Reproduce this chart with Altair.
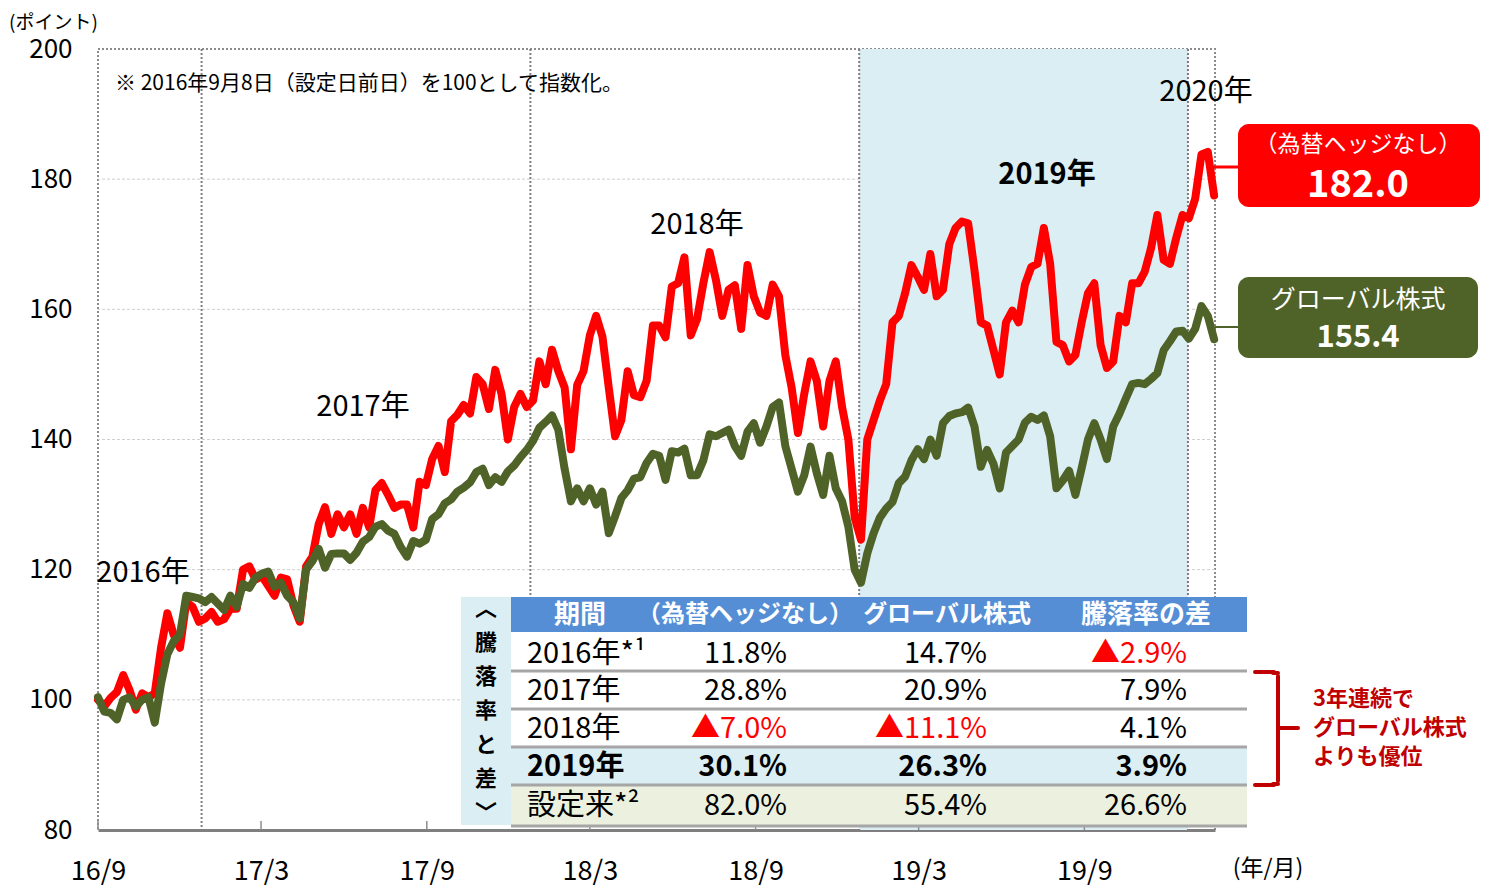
import altair as alt
import pandas as pd

# ---------------- data ----------------
unhedged = [100, 99, 100.3, 101.2, 103.8, 101.5, 98.5, 101, 100.4, 101,
            108, 113.3, 110, 108, 115, 114.3, 112, 112.5, 113.5, 112,
            112.4, 114, 114, 120, 120.5, 118.5, 119, 117.5, 116, 118.8,
            118.5, 114.5, 112, 120.5, 122, 127, 129.6, 125.5, 128.5, 126.5,
            128.5, 125.5, 129.5, 126.5, 132.2, 133.3, 131.5, 129.5, 130, 130,
            126.5, 133.5, 133, 137, 139, 135, 142.8, 143.8, 145.3, 144,
            149.6, 148.5, 144.7, 150.7, 147, 140, 145, 147, 145, 146,
            152, 148.5, 153.8, 150.5, 148, 138.5, 148.4, 150.5, 156, 159,
            155.8, 148, 140.5, 143, 150.5, 146.8, 146.5, 149, 157.5, 157.5,
            155.7, 163.5, 164, 168, 156, 158.5, 164, 168.8, 164.5, 159,
            163, 163.7, 157, 166.8, 162, 159.5, 159, 163.8, 162, 153,
            148, 141, 147, 152, 149, 142, 149, 152, 145, 140,
            128, 124.6, 140, 143, 146, 148.5, 158, 159, 162.5, 166.8,
            165, 163, 168.5, 162, 163, 170, 172.5, 173.5, 173.2, 166,
            158, 157.5, 153.8, 150, 158, 159.8, 158, 163.8, 166.5, 167,
            172.5, 167, 155, 154.5, 152, 153, 158, 162.5, 164, 154.5,
            151, 152, 159, 158, 164, 164, 165.8, 169.4, 174.5, 167.6,
            167, 171, 174.5, 174, 177, 183.8, 184.2, 177.5]

global_eq = [100.4, 98.2, 98, 97, 100, 100.4, 99, 100, 100.4, 96.5,
             102.5, 107, 109, 110, 116, 115.8, 115.6, 115, 115.8, 114.8,
             113.8, 116, 114.3, 117.8, 117.2, 118.8, 119.4, 119.7, 117.4, 118,
             116, 115, 112.5, 120, 121.3, 123.2, 120.3, 122.4, 122.5, 122.5,
             121.5, 122.6, 124.3, 125, 126.6, 127, 126, 125.5, 123.5, 122,
             124.4, 124, 124.6, 127.8, 128.5, 130.2, 130.8, 132, 132.6, 133.4,
             135, 135.5, 133, 134.2, 133.5, 135.1, 136, 137.3, 138.4, 139.8,
             141.8, 142.7, 143.7, 141.5, 135.5, 130.5, 132.5, 130.5, 132.5, 130,
             132, 125.6, 128.2, 131, 132.2, 134, 134.2, 136.4, 137.8, 137.5,
             133.8, 138.2, 138, 138.6, 134.5, 134.5, 136.8, 140.8, 140.5, 141,
             141.5, 139, 137.5, 141.2, 142.5, 139.5, 142, 145, 145.7, 139,
             135.5, 132, 134.5, 138.9, 134.8, 131.5, 137.5, 132.5, 130.5, 126.6,
             120, 118, 122.5, 125.6, 128, 129.4, 130.4, 133.3, 134.3, 136.8,
             138.5, 137, 140, 137.5, 142.5, 143.6, 144, 144.2, 144.9, 142,
             135.8, 138.4, 136.3, 132.5, 138, 139, 140, 142.6, 143.5, 143,
             143.7, 140.5, 132.5, 133.7, 135.2, 131.5, 135.6, 140, 142.5, 140,
             137, 142, 144, 146.3, 148.5, 148.7, 148.5, 149.3, 150.2, 153.7,
             155.1, 156.6, 156.7, 155.5, 157, 160.5, 159, 155.4]

start_date = "2016-09-08"
end_date = "2020-01-31"
tick_dates = ["2016-09-08", "2017-03-08", "2017-09-08", "2018-03-08",
              "2018-09-08", "2019-03-08", "2019-09-08"]
year_starts = ["2017-01-01", "2018-01-01", "2019-01-01", "2020-01-01"]
y_ticks = [80, 100, 120, 140, 160, 180, 200]
grid_values = [100, 120, 140, 160, 180]

periods = ["2016年*¹", "2017年", "2018年", "2019年", "設定来*²"]
ret_unhedged = [11.8, 28.8, -7.0, 30.1, 82.0]
ret_global = [14.7, 20.9, -11.1, 26.3, 55.4]
ret_diff = [-2.9, 7.9, 4.1, 3.9, 26.6]
headers = ["期間", "（為替ヘッジなし）", "グローバル株式", "騰落率の差"]
final_unhedged = 182.0
final_global = 155.4

# ---------------- layout ----------------
FONT = "Noto Sans CJK JP"
W, H = 1117, 781
RED = "#FF0000"
GREEN = "#4F6228"
DARKRED = "#C00000"


def dt(s):
    y, m, d = map(int, s.split("-"))
    return alt.DateTime(year=y, month=m, date=d)


dates = pd.date_range(start_date, periods=len(unhedged), freq="7D")
df = pd.DataFrame({"date": dates, "unhedged": unhedged, "global": global_eq})

xscale = alt.Scale(domain=[dt(start_date), dt(end_date)], nice=False)
yscale = alt.Scale(domain=[80, 200], nice=False, zero=False)

xaxis = alt.Axis(values=[dt(s) for s in tick_dates], format="%y/%-m",
                 labelFontSize=27, labelColor="#000000", labelPadding=41,
                 labelBaseline="middle", labelFlush=False, labelOverlap=False,
                 ticks=False, tickSize=0, domainColor="#7F7F7F", domainWidth=3,
                 grid=False, title=None, labelFont=FONT)
yaxis = alt.Axis(values=y_ticks, labelFontSize=26, labelColor="#000000",
                 labelPadding=26, ticks=False, tickSize=0, domain=False,
                 grid=False, title=None, labelFont=FONT)

dummy = pd.DataFrame({"k": [0]})


def txt(x, y, s, size, color="#000000", weight="normal", align="center",
        baseline="middle", **kw):
    return alt.Chart(dummy).mark_text(
        text=s, fontSize=size, color=color, fontWeight=weight, align=align,
        baseline=baseline, font=FONT, **kw
    ).encode(x=alt.value(x), y=alt.value(y))


def rect(x1, x2, y1, y2, color, **kw):
    return alt.Chart(dummy).mark_rect(color=color, **kw).encode(
        x=alt.value(x1), x2=alt.value(x2), y=alt.value(y1), y2=alt.value(y2))


def hline(x1, x2, y, color, width, **kw):
    return alt.Chart(dummy).mark_rule(color=color, strokeWidth=width, **kw).encode(
        x=alt.value(x1), x2=alt.value(x2), y=alt.value(y))


def vline(x, y1, y2, color, width, **kw):
    return alt.Chart(dummy).mark_rule(color=color, strokeWidth=width, **kw).encode(
        x=alt.value(x), y=alt.value(y1), y2=alt.value(y2))


layers = []

# gridlines
grid = alt.Chart(pd.DataFrame({"v": grid_values})).mark_rule(
    color="#CFCFCF", strokeDash=[3, 2], strokeWidth=1
).encode(y=alt.Y("v:Q", scale=yscale, axis=yaxis))
layers.append(grid)

# 2019 shading
shade = alt.Chart(pd.DataFrame({"s": [pd.Timestamp(year_starts[2])],
                                "e": [pd.Timestamp(year_starts[3])]})).mark_rect(
    color="#DAEEF3"
).encode(x=alt.X("s:T", scale=xscale, axis=xaxis), x2="e:T",
         y=alt.value(0), y2=alt.value(H))
layers.append(shade)

# year boundary lines
yl = alt.Chart(pd.DataFrame({"d": pd.to_datetime(year_starts)})).mark_rule(
    color="#7F7F7F", strokeDash=[2, 2], strokeWidth=2
).encode(x=alt.X("d:T", scale=xscale, axis=xaxis))
layers.append(yl)

# inward tick marks
tk = alt.Chart(pd.DataFrame({"d": pd.to_datetime(tick_dates)})).mark_rule(
    color="#8C8C8C", strokeWidth=1.5
).encode(x=alt.X("d:T", scale=xscale, axis=xaxis), y=alt.value(H - 9), y2=alt.value(H))
layers.append(tk)

# series
line_red = alt.Chart(df).mark_line(
    color=RED, strokeWidth=8, strokeJoin="round", strokeCap="round"
).encode(x=alt.X("date:T", scale=xscale, axis=xaxis),
         y=alt.Y("unhedged:Q", scale=yscale, axis=yaxis))
line_green = alt.Chart(df).mark_line(
    color=GREEN, strokeWidth=8, strokeJoin="round", strokeCap="round"
).encode(x=alt.X("date:T", scale=xscale, axis=xaxis),
         y=alt.Y("global:Q", scale=yscale, axis=yaxis))
layers += [line_red, line_green]

# text annotations
layers.append(txt(-89, -26, "(ポイント)", 19, align="left"))
layers.append(txt(17, 35, "※ 2016年9月8日（設定日前日）を100として指数化。", 21, align="left"))
layers.append(txt(45, 524, "2016年", 29))
layers.append(txt(265, 358, "2017年", 29))
layers.append(txt(599, 176, "2018年", 29))
layers.append(txt(949, 126, "2019年", 29, weight="bold"))
layers.append(txt(1108, 43, "2020年", 29))
layers.append(txt(1170, 820, "(年/月)", 23))

# value boxes
layers.append(hline(1115, 1140, 118, RED, 3))
layers.append(rect(1140, 1382, 75, 158, RED, cornerRadius=11))
layers.append(txt(1260, 96, "（為替ヘッジなし）", 23, color="#FFFFFF"))
layers.append(txt(1260, 137, f"{final_unhedged:.1f}", 38, color="#FFFFFF", weight="bold"))
layers.append(hline(1117, 1140, 278, GREEN, 2))
layers.append(rect(1140, 1380, 228, 309, GREEN, cornerRadius=11))
layers.append(txt(1260, 251, "グローバル株式", 25, color="#FFFFFF"))
layers.append(txt(1260, 289, f"{final_global:.1f}", 31, color="#FFFFFF", weight="bold"))

# ---------------- table ----------------
TX0, TX1 = 413, 1149
layers.append(rect(363, TX0, 548, 776, "#DAEEF3"))
layers.append(rect(TX0, TX1, 548, 583, "#558ED5"))
layers.append(rect(TX0, TX1, 583, 698, "#FFFFFF"))
layers.append(rect(TX0, TX1, 698, 736, "#DAEEF3"))
layers.append(rect(TX0, TX1, 736, 777, "#EBF1DE"))
for yy in [622, 660, 698, 736, 777]:
    layers.append(hline(TX0, TX1, yy, "#A6A6A6", 3))

layers.append(txt(388, 550, ["︿", "騰", "落", "率", "と", "差", "﹀"], 22,
                  weight="bold", baseline="top", lineHeight=34))

header_x = [482, 647, 849, 1048]
header_size = [26, 24, 24, 26]
for hx, h, hs in zip(header_x, headers, header_size):
    layers.append(txt(hx, 566, h, hs, color="#FFFFFF", weight="bold"))


def fmt(v):
    return ("▲" if v < 0 else "") + f"{abs(v):.1f}%"


row_y = [605, 642, 680, 718, 757]
col_right = [689, 889, 1089]
for i, (p, a, b, c) in enumerate(zip(periods, ret_unhedged, ret_global, ret_diff)):
    w = "bold" if p == "2019年" else "normal"
    layers.append(txt(429, row_y[i], p, 29, weight=w, align="left"))
    for xr, v in zip(col_right, [a, b, c]):
        layers.append(txt(xr, row_y[i], fmt(v), 29, weight=w, align="right",
                          color=RED if v < 0 else "#000000"))

# bracket + note
layers.append(hline(1157, 1176, 623, DARKRED, 4, strokeCap="round"))
layers.append(vline(1180, 627, 732, DARKRED, 4, strokeCap="round"))
layers.append(hline(1180, 1200, 679, DARKRED, 4, strokeCap="round"))
layers.append(hline(1157, 1176, 736, DARKRED, 4, strokeCap="round"))
layers.append(hline(1175, 1180, 624, DARKRED, 4, strokeCap="round"))
layers.append(hline(1175, 1180, 735, DARKRED, 4, strokeCap="round"))
note_lines = ["3年連続で", "グローバル株式", "よりも優位"]
for j, s in enumerate(note_lines):
    layers.append(txt(1215, 650 + 29 * j, s, 22, color=DARKRED, weight="bold",
                      align="left"))

chart = alt.layer(*layers).properties(
    width=W, height=H,
    padding={"left": 90, "top": 41, "right": 271, "bottom": 56},
    autosize=alt.AutoSizeParams(type="none"),
).configure(font=FONT).configure_view(
    stroke="#8C8C8C", strokeDash=[2, 2], strokeWidth=2
)

chart.save("out.html", embed_options={"renderer": "svg", "actions": False})
